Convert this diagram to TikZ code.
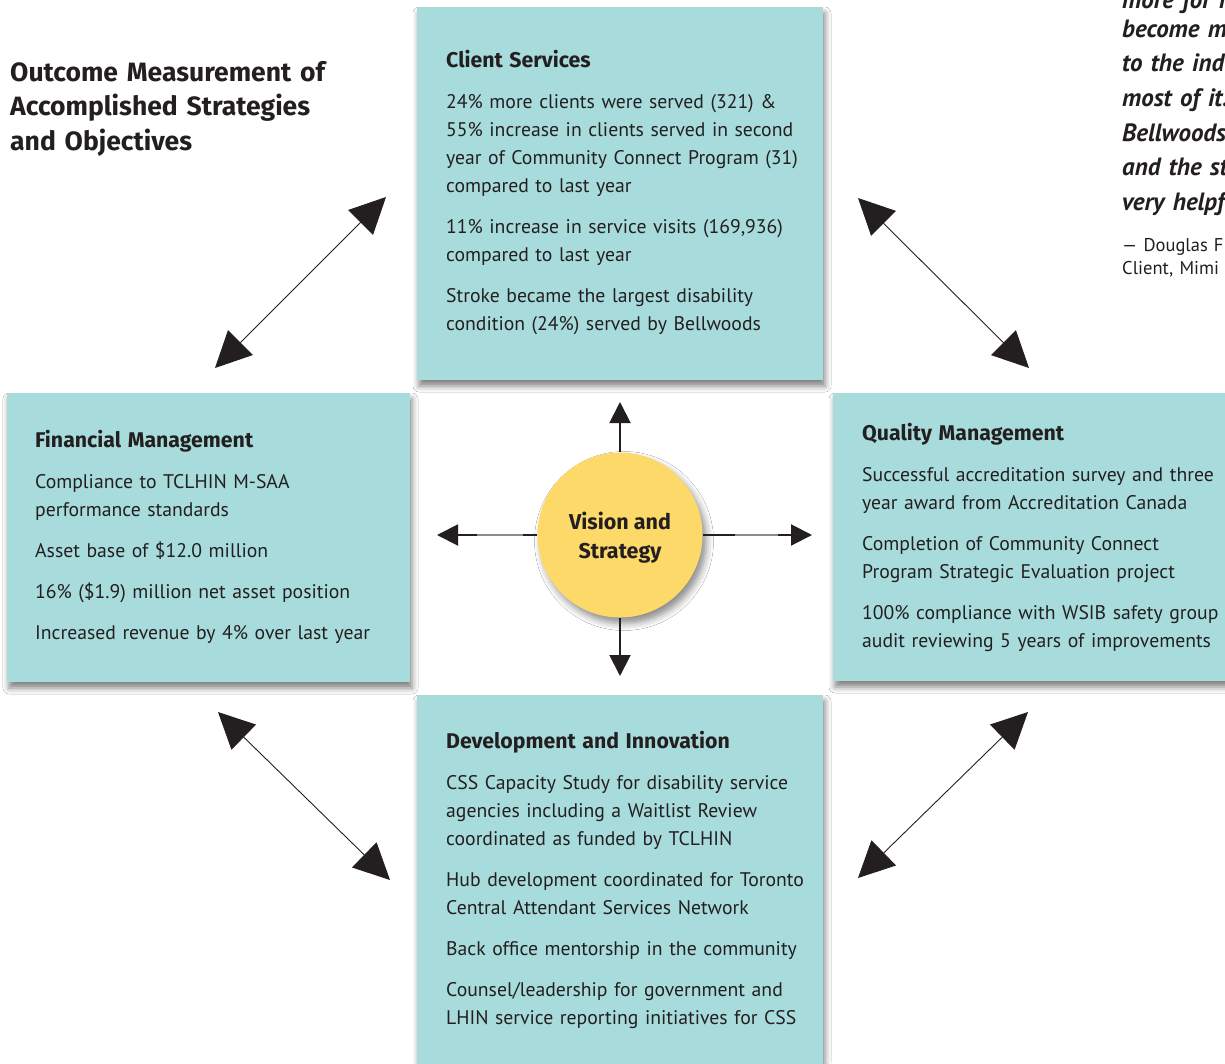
\documentclass[tikz,border=0pt]{standalone}
\usepackage{fontspec}
\setmainfont{PT Sans}
\newfontfamily\headfont{Fira Sans}
\usetikzlibrary{arrows.meta,shadows.blur}
\definecolor{boxfill}{HTML}{A8DBDB}
\definecolor{circfill}{HTML}{FDD96A}
\definecolor{ink}{HTML}{231F20}
\definecolor{midgray}{HTML}{8C8C8C}
\newcommand{\boxhead}[1]{{\headfont\bfseries\fontsize{21.3}{28}\selectfont #1}}
\begin{document}
\begin{tikzpicture}[x=1pt,y=-1pt,
  box/.style={fill=boxfill, draw=none, anchor=north west, inner sep=0pt, outer sep=0pt,
    blur shadow={shadow xshift=2pt, shadow yshift=-6pt, shadow blur radius=6pt, shadow opacity=50}},
  body/.style={anchor=base west, inner sep=0pt, text width=420pt, align=left, text=ink,
    font=\fontsize{19.7}{28}\selectfont},
  ttl/.style={anchor=base west, inner sep=0pt, text width=400pt, align=left, text=ink,
    font=\headfont\fontsize{26.5}{34.8}\selectfont\bfseries},
  diag/.style={draw=ink, line width=0.9pt,
    {Triangle[length=36pt,width=35pt]}-{Triangle[length=36pt,width=35pt]}},
  sarrow/.style={draw=ink, line width=2pt, -{Triangle[length=21pt,width=21pt]}},
  midline/.style={draw=midgray, line width=1.1pt},
  quote/.style={anchor=base west, inner sep=0pt, text width=200pt, align=left, text=ink,
    font=\fontsize{25}{34.7}\selectfont\bfseries\itshape},
  attrib/.style={anchor=base west, inner sep=0pt, text width=200pt, align=left, text=ink,
    font=\fontsize{18.5}{23}\selectfont}
]
\useasboundingbox (0,0) rectangle (1225,1063);
\clip (0,0) rectangle (1225,1063);
\fill[white] (0,0) rectangle (1225,1063);

% main title
\node[ttl] (title) at (10,81) {Outcome Measurement of\\Accomplished Strategies\\and Objectives};

% quote (cut by the page edge)
\node[quote] (q) at (1122,8) {more for m\\[-5.7pt]become m\\to the ind\\most of it.\\Bellwoods\\and the st\\very helpf};
\node[attrib] (qa) at (1122,251) {— Douglas F\\Client, Mimi};

% boxes
\node[box, minimum width=406pt, minimum height=373pt] (cs) at (417,7) {};
\node[box, minimum width=403pt, minimum height=289pt] (fm) at (7,393) {};
\node[box, minimum width=420pt, minimum height=288pt] (qm) at (833,393) {};
\node[box, minimum width=406pt, minimum height=390pt] (di) at (417,695) {};

% box texts
\node[body] (cst) at (446,67) {\boxhead{Client Services}\\[13pt]
24\% more clients were served (321) \&\\
55\% increase in clients served in second\\
year of Community Connect Program (31)\\
compared to last year\\[13pt]
11\% increase in service visits (169,936)\\
compared to last year\\[13pt]
Stroke became the largest disability\\
condition (24\%) served by Bellwoods};

\node[body] (fmt) at (35,447) {\boxhead{Financial Management}\\[13pt]
Compliance to TCLHIN M-SAA\\
performance standards\\[13pt]
Asset base of \$12.0 million\\[13pt]
16\% (\$1.9) million net asset position\\[13pt]
Increased revenue by 4\% over last year};

\node[body] (qmt) at (862,440) {\boxhead{Quality Management}\\[13pt]
Successful accreditation survey and three\\
year award from Accreditation Canada\\[13pt]
Completion of Community Connect\\
Program Strategic Evaluation project\\[13pt]
100\% compliance with WSIB safety group\\
audit reviewing 5 years of improvements};

\node[body] (dit) at (446,748) {\boxhead{Development and Innovation}\\[13pt]
CSS Capacity Study for disability service\\
agencies including a Waitlist Review\\
coordinated as funded by TCLHIN\\[13pt]
Hub development coordinated for Toronto\\
Central Attendant Services Network\\[13pt]
Back office mentorship in the community\\[13pt]
Counsel/leadership for government and\\
LHIN service reporting initiatives for CSS};

% centre circle
\node[circle, fill=circfill, draw=none, minimum size=165pt, inner sep=0pt,
  blur shadow={shadow xshift=4pt, shadow yshift=-6pt, shadow blur radius=7pt, shadow opacity=45}]
  (vs) at (620,535) {};
\node[inner sep=0pt, text=ink, align=center, font=\headfont\fontsize{21.5}{29}\selectfont\bfseries]
  (vst) at (620,538) {Vision and\\Strategy};

% straight arrows from the circle
\coordinate (au) at (620,402);
\coordinate (ad) at (620,676);
\coordinate (al) at (437,535);
\coordinate (ar) at (812,535);
\coordinate (lm1) at (477,535);
\coordinate (lm2) at (523,535);
\coordinate (rm1) at (735,535);
\coordinate (rm2) at (778,535);
\draw[sarrow] (vs) -- (au);
\draw[sarrow] (vs) -- (ad);
\draw[sarrow] (vs.west) -- (al);
\draw[sarrow] (vs.east) -- (ar);
\fill[white] (477,533.5) rectangle (523,536.5);
\fill[white] (735,533.5) rectangle (778,536.5);
\draw[midline] (lm1) -- (lm2);
\draw[midline] (rm1) -- (rm2);

% diagonal double arrows
\coordinate (tla) at (215,368);
\coordinate (tlb) at (386,197);
\coordinate (tra) at (858,198);
\coordinate (trb) at (1029,368);
\coordinate (bla) at (218,712);
\coordinate (blb) at (390,880);
\coordinate (bra) at (858,878);
\coordinate (brb) at (1028,712);
\draw[diag] (tla) -- (tlb);
\draw[diag] (tra) -- (trb);
\draw[diag] (bla) -- (blb);
\draw[diag] (bra) -- (brb);
\end{tikzpicture}
\end{document}
